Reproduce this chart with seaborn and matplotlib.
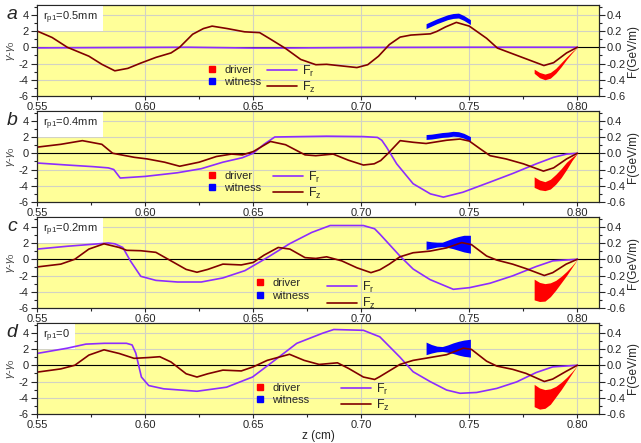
import matplotlib
matplotlib.use("Agg")
import matplotlib.pyplot as plt
import seaborn as sns
import numpy as np
from matplotlib.lines import Line2D
from matplotlib.ticker import MultipleLocator, FormatStrFormatter

# ---------------- data ----------------
panel_letters = ["a", "b", "c", "d"]
panel_labels = [r"r$_{\rm p1}$=0.5mm", r"r$_{\rm p1}$=0.4mm", r"r$_{\rm p1}$=0.2mm", r"r$_{\rm p1}$=0"]

# Panel a
fz_a_z = [0.550, 0.557, 0.564, 0.574, 0.580, 0.586, 0.592, 0.598, 0.605, 0.612, 0.616, 0.622, 0.627,
          0.631, 0.638, 0.646, 0.653, 0.658, 0.665, 0.672, 0.679, 0.684, 0.691, 0.698, 0.703, 0.708,
          0.713, 0.718, 0.723, 0.732, 0.735, 0.739, 0.744, 0.750, 0.758, 0.763, 0.769, 0.777, 0.7845,
          0.789, 0.795, 0.800]
fz_a = [0.20, 0.12, 0.00, -0.11, -0.21, -0.29, -0.26, -0.195, -0.125, -0.07, 0.00, 0.16, 0.23,
        0.26, 0.23, 0.19, 0.18, 0.10, -0.015, -0.15, -0.215, -0.21, -0.23, -0.25, -0.215, -0.11,
        0.033, 0.125, 0.15, 0.165, 0.195, 0.25, 0.306, 0.26, 0.11, -0.01, -0.07, -0.15, -0.225,
        -0.19, -0.07, 0.0]
fr_a_z = [0.550, 0.580, 0.620, 0.650, 0.660, 0.700, 0.750, 0.800]
fr_a = [-0.008, -0.004, 0.0, -0.01, -0.01, -0.003, 0.0, 0.0]

# Panel b
fz_b_z = [0.550, 0.561, 0.571, 0.580, 0.585, 0.595, 0.601, 0.609, 0.616, 0.625, 0.633, 0.640, 0.645,
          0.650, 0.658, 0.665, 0.674, 0.679, 0.687, 0.694, 0.701, 0.706, 0.709, 0.7125, 0.718, 0.724,
          0.730, 0.7395, 0.7457, 0.750, 0.755, 0.7596, 0.767, 0.775, 0.7843, 0.789, 0.795, 0.800]
fz_b = [0.075, 0.11, 0.155, 0.11, 0.0, -0.05, -0.07, -0.11, -0.16, -0.11, -0.04, -0.01, -0.02,
        0.02, 0.145, 0.105, -0.02, -0.03, -0.01, -0.085, -0.145, -0.13, -0.09, 0.0, 0.155, 0.135,
        0.12, 0.16, 0.175, 0.15, 0.055, -0.03, -0.07, -0.13, -0.22, -0.18, -0.07, 0.0]
fr_b_z = [0.550, 0.564, 0.576, 0.583, 0.5855, 0.5885, 0.600, 0.615, 0.626, 0.636, 0.645, 0.650, 0.655,
          0.660, 0.684, 0.701, 0.7075, 0.7095, 0.7117, 0.7164, 0.724, 0.732, 0.738, 0.747, 0.7596,
          0.770, 0.781, 0.789, 0.795, 0.800]
fr_b = [-0.12, -0.145, -0.165, -0.18, -0.20, -0.305, -0.285, -0.24, -0.19, -0.11, -0.055, 0.0, 0.11,
        0.20, 0.21, 0.205, 0.195, 0.16, 0.075, -0.13, -0.375, -0.50, -0.54, -0.48, -0.355,
        -0.25, -0.13, -0.05, -0.01, 0.0]

# Panel c
fz_c_z = [0.550, 0.561, 0.5675, 0.574, 0.581, 0.588, 0.5915, 0.598, 0.605, 0.612, 0.619, 0.624, 0.629,
          0.636, 0.6445, 0.650, 0.655, 0.6616, 0.667, 0.674, 0.679, 0.684, 0.691, 0.698, 0.7045,
          0.7086, 0.713, 0.7179, 0.724, 0.7318, 0.7395, 0.7465, 0.751, 0.758, 0.7627, 0.770, 0.7762,
          0.7847, 0.7886, 0.7948, 0.800]
fz_c = [-0.095, -0.06, 0.0, 0.125, 0.19, 0.145, 0.11, 0.105, 0.085, -0.02, -0.125, -0.16, -0.125,
        -0.06, -0.07, -0.04, 0.05, 0.145, 0.125, 0.02, 0.01, 0.03, -0.02, -0.105, -0.165,
        -0.13, -0.06, 0.03, 0.08, 0.10, 0.14, 0.205, 0.18, 0.04, -0.01, -0.06, -0.115,
        -0.20, -0.165, -0.06, 0.0]
fr_c_z = [0.550, 0.564, 0.576, 0.583, 0.586, 0.5897, 0.5932, 0.598, 0.605, 0.615, 0.626, 0.636, 0.6462,
          0.6565, 0.6668, 0.6771, 0.6856, 0.701, 0.7062, 0.7086, 0.7179, 0.724, 0.7318, 0.7426, 0.750,
          0.7596, 0.770, 0.7809, 0.7886, 0.800]
fr_c = [0.125, 0.16, 0.185, 0.20, 0.19, 0.145, -0.02, -0.21, -0.26, -0.28, -0.28, -0.23, -0.14,
        0.02, 0.19, 0.33, 0.415, 0.415, 0.375, 0.31, 0.04, -0.12, -0.25, -0.37, -0.35,
        -0.295, -0.205, -0.09, -0.02, 0.0]

# Panel d
fz_d_z = [0.550, 0.561, 0.5675, 0.574, 0.581, 0.588, 0.5949, 0.6017, 0.6068, 0.612, 0.619, 0.624, 0.629,
          0.636, 0.6445, 0.650, 0.6565, 0.6668, 0.6736, 0.6805, 0.689, 0.6942, 0.701, 0.7062, 0.7086,
          0.7179, 0.724, 0.7318, 0.7395, 0.7472, 0.751, 0.758, 0.7627, 0.770, 0.7762, 0.7847, 0.7886,
          0.7948, 0.800]
fz_d = [-0.085, -0.045, 0.0, 0.125, 0.19, 0.145, 0.085, 0.095, 0.105, 0.04, -0.105, -0.145, -0.105,
        -0.06, -0.07, -0.02, 0.06, 0.135, 0.06, 0.01, 0.03, -0.04, -0.145, -0.175, -0.14,
        0.01, 0.06, 0.095, 0.13, 0.21, 0.195, 0.05, -0.01, -0.05, -0.10, -0.20, -0.17,
        -0.075, 0.0]
fr_d_z = [0.550, 0.564, 0.5726, 0.5812, 0.5914, 0.5940, 0.5957, 0.5983, 0.6017, 0.6086, 0.624, 0.6377,
          0.6497, 0.6599, 0.6702, 0.6822, 0.6873, 0.701, 0.7062, 0.7086, 0.7179, 0.724, 0.7318,
          0.7395, 0.7457, 0.7534, 0.7627, 0.7719, 0.7809, 0.7886, 0.800]
fr_d = [0.145, 0.21, 0.26, 0.27, 0.27, 0.25, 0.15, -0.145, -0.25, -0.29, -0.32, -0.27,
        -0.145, 0.06, 0.27, 0.395, 0.44, 0.43, 0.375, 0.35, 0.1, -0.08, -0.2,
        -0.305, -0.345, -0.335, -0.285, -0.205, -0.09, -0.02, 0.0]

# Driver bunch (gamma - gamma0), upper / lower envelope
driver_z = [0.780, 0.7825, 0.785, 0.7875, 0.790, 0.7925, 0.795, 0.7975, 0.800]
drv_up_a = [-2.7, -3.1, -3.3, -3.1, -2.6, -1.9, -1.2, -0.55, 0.0]
drv_lo_a = [-3.2, -3.75, -4.0, -3.8, -3.2, -2.4, -1.5, -0.7, 0.0]
drv_up_b = [-2.9, -3.3, -3.5, -3.2, -2.6, -1.9, -1.1, -0.5, 0.0]
drv_lo_b = [-4.2, -4.5, -4.6, -4.4, -3.8, -3.0, -2.0, -0.9, 0.0]
drv_up_c = [-2.45, -2.85, -3.0, -2.9, -2.6, -2.1, -1.5, -0.8, 0.0]
drv_lo_c = [-5.0, -5.2, -5.15, -4.6, -3.8, -2.9, -2.0, -1.0, 0.0]
drv_up_d = [-2.35, -2.8, -3.0, -2.9, -2.6, -2.1, -1.5, -0.8, 0.0]
drv_lo_d = [-5.1, -5.4, -5.3, -4.8, -3.9, -3.0, -2.0, -1.0, 0.0]

# Witness bunch (gamma - gamma0), upper / lower envelope
witness_z = [0.730, 0.7325, 0.735, 0.7375, 0.740, 0.7425, 0.745, 0.7475, 0.7505]
wit_up_a = [2.9, 3.2, 3.5, 3.75, 4.0, 4.15, 4.2, 3.9, 3.4]
wit_lo_a = [2.3, 2.6, 2.9, 3.15, 3.4, 3.55, 3.6, 3.3, 2.8]
wit_up_b = [2.3, 2.35, 2.45, 2.55, 2.6, 2.7, 2.65, 2.45, 2.05]
wit_lo_b = [1.7, 1.75, 1.85, 1.95, 2.0, 2.1, 2.05, 1.85, 1.45]
wit_up_c = [2.25, 2.15, 2.1, 2.1, 2.35, 2.6, 2.8, 2.95, 2.95]
wit_lo_c = [1.2, 1.35, 1.5, 1.55, 1.45, 1.3, 1.1, 0.9, 0.75]
wit_up_d = [2.85, 2.55, 2.35, 2.3, 2.5, 2.75, 2.95, 3.1, 3.2]
wit_lo_d = [1.3, 1.5, 1.65, 1.7, 1.6, 1.45, 1.25, 1.1, 1.0]

# ---------------- styling ----------------
sns.set_style("ticks")
plt.rcParams["font.family"] = ["Liberation Sans", "DejaVu Sans"]
plt.rcParams["mathtext.fontset"] = "custom"
plt.rcParams["mathtext.rm"] = "Liberation Sans"
plt.rcParams["mathtext.it"] = "Liberation Sans:italic"
plt.rcParams["axes.unicode_minus"] = False

YELLOW = "#ffff99"
GRID = "#d2d2c4"
C_FR = "#8c2cff"
C_FZ = "#800000"
C_DRV = "#ff0000"
C_WIT = "#0000ff"

panels = [
    dict(fz_z=fz_a_z, fz=fz_a, fr_z=fr_a_z, fr=fr_a, du=drv_up_a, dl=drv_lo_a, wu=wit_up_a, wl=wit_lo_a,
         leg1=(0.6285, -2.15), leg2=(0.6565, -2.0)),
    dict(fz_z=fz_b_z, fz=fz_b, fr_z=fr_b_z, fr=fr_b, du=drv_up_b, dl=drv_lo_b, wu=wit_up_b, wl=wit_lo_b,
         leg1=(0.6285, -2.15), leg2=(0.6590, -2.0)),
    dict(fz_z=fz_c_z, fz=fz_c, fr_z=fr_c_z, fr=fr_c, du=drv_up_c, dl=drv_lo_c, wu=wit_up_c, wl=wit_lo_c,
         leg1=(0.6505, -2.35), leg2=(0.6840, -2.5)),
    dict(fz_z=fz_d_z, fz=fz_d, fr_z=fr_d_z, fr=fr_d, du=drv_up_d, dl=drv_lo_d, wu=wit_up_d, wl=wit_lo_d,
         leg1=(0.6505, -2.15), leg2=(0.6905, -2.0)),
]

W, H = 641, 443
fig = plt.figure(figsize=(W / 100, H / 100), dpi=100)
ax_left, ax_right = 37, 599
tops = [5, 111, 217, 323]
ph = 91

for i, p in enumerate(panels):
    top = tops[i]
    ax = fig.add_axes([ax_left / W, 1 - (top + ph) / H, (ax_right - ax_left) / W, ph / H])
    ax.set_facecolor(YELLOW)
    ax.set_xlim(0.55, 0.81)
    ax.set_ylim(-6, 5.2)
    ax.xaxis.set_major_locator(MultipleLocator(0.05))
    ax.xaxis.set_minor_locator(MultipleLocator(0.025))
    ax.xaxis.set_major_formatter(FormatStrFormatter("%.2f"))
    ax.yaxis.set_major_locator(MultipleLocator(2))
    ax.yaxis.set_minor_locator(MultipleLocator(1))
    ax.grid(True, which="major", color=GRID, lw=0.8)
    ax.set_axisbelow(True)
    ax.axhline(0, color="black", lw=0.8, zorder=1.5)
    ax.fill_between(driver_z, p["du"], p["dl"], color=C_DRV, lw=0, zorder=2)
    ax.fill_between(witness_z, p["wu"], p["wl"], color=C_WIT, lw=0, zorder=2)
    ax.tick_params(axis="y", which="major", direction="out", length=4, width=0.8, labelsize=8, pad=2)
    ax.tick_params(axis="x", which="major", direction="out", length=3, width=0.8, labelsize=8, pad=1)
    ax.tick_params(axis="both", which="minor", direction="out", length=2, width=0.8)
    for s in ax.spines.values():
        s.set_linewidth(0.8)
        s.set_color("black")
    ax.set_ylabel(r"$\gamma$-$\gamma_0$", fontsize=8, color="#444444", labelpad=1)

    ax2 = ax.twinx()
    ax2.set_ylim(-0.6, 0.52)
    ax2.yaxis.set_major_locator(MultipleLocator(0.2))
    ax2.yaxis.set_minor_locator(MultipleLocator(0.1))
    ax2.yaxis.set_major_formatter(FormatStrFormatter("%.1f"))
    ax2.grid(False)
    ax2.tick_params(axis="y", which="major", direction="out", length=4, width=0.8, labelsize=8, pad=1.5)
    ax2.tick_params(axis="y", which="minor", direction="out", length=2, width=0.8)
    sns.lineplot(x=p["fr_z"], y=p["fr"], ax=ax2, color=C_FR, lw=1.2, sort=False, estimator=None)
    sns.lineplot(x=p["fz_z"], y=p["fz"], ax=ax2, color=C_FZ, lw=1.2, sort=False, estimator=None)
    ax2.set_ylabel("F(GeV/m)", fontsize=8.5, labelpad=1)

    # legends
    h1 = [Line2D([], [], marker="s", ls="", color=C_DRV, markersize=4),
          Line2D([], [], marker="s", ls="", color=C_WIT, markersize=4)]
    leg1 = ax2.legend(h1, ["driver", "witness"], loc="upper left", bbox_to_anchor=p["leg1"],
                      bbox_transform=ax.transData, frameon=False, fontsize=8, handlelength=1.0,
                      handletextpad=0.6, labelspacing=0.2, borderpad=0, borderaxespad=0)
    ax2.add_artist(leg1)
    h2 = [Line2D([], [], color=C_FR, lw=1.2), Line2D([], [], color=C_FZ, lw=1.2)]
    ax2.legend(h2, [r"F$_{\rm r}$", r"F$_{\rm z}$"], loc="upper left", bbox_to_anchor=p["leg2"],
               bbox_transform=ax.transData, frameon=False, fontsize=9, handlelength=2.4,
               handletextpad=0.4, labelspacing=0.1, borderpad=0, borderaxespad=0)

    ax.text(0.011, 0.86, panel_labels[i], transform=ax.transAxes, fontsize=8, va="center", ha="left",
            bbox=dict(facecolor="white", edgecolor="none", pad=3.5), zorder=5)
    ax.text(-0.0445, 0.893, panel_letters[i], transform=ax.transAxes, fontsize=14, style="italic",
            va="center", ha="center")
    if i == 3:
        ax.set_xlabel("z (cm)", fontsize=8.5, labelpad=0)

fig.savefig("out.png", dpi=100)
